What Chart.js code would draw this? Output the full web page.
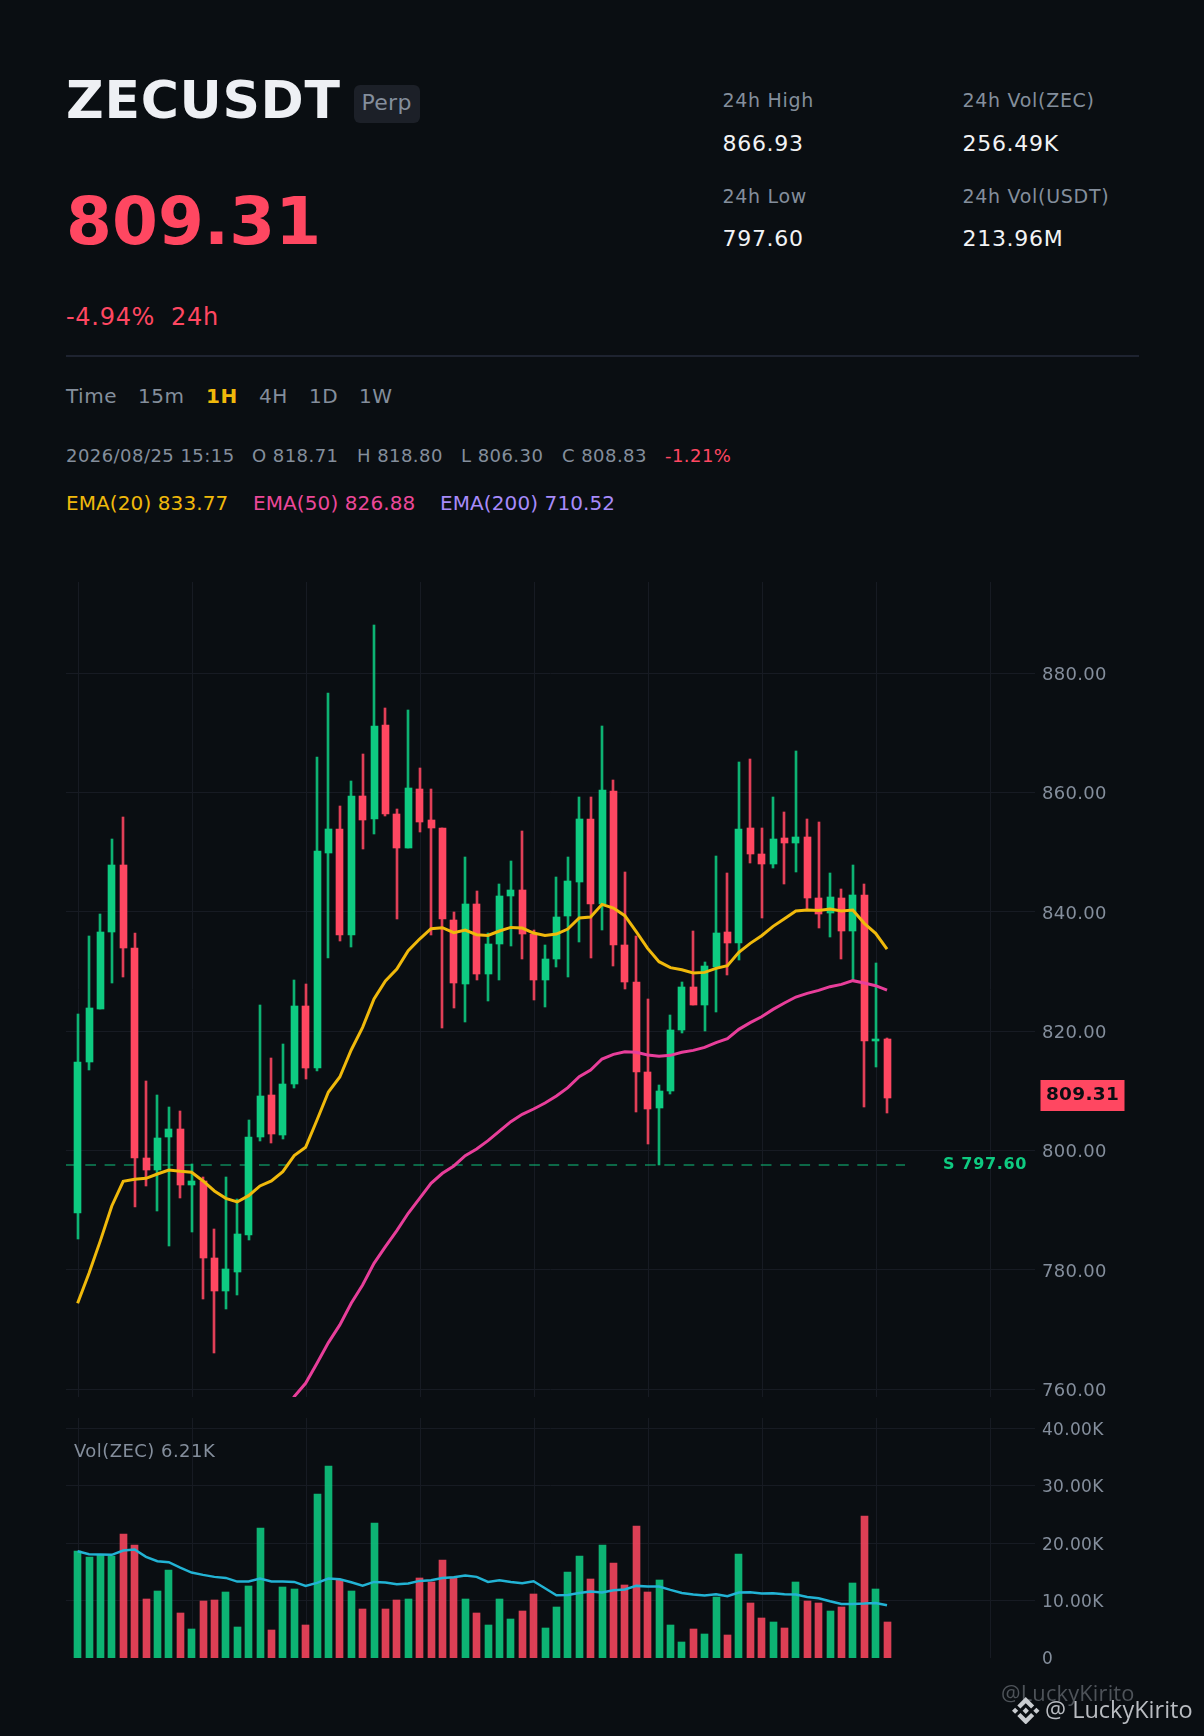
<!DOCTYPE html>
<html><head><meta charset="utf-8">
<script src="https://cdn.jsdelivr.net/npm/chart.js@4/dist/chart.umd.js"></script>
<style>
html,body{margin:0;padding:0;background:#0a0e12;width:1204px;height:1736px;overflow:hidden;font-family:"DejaVu Sans",sans-serif;}
canvas{position:absolute;left:0;display:block;}
.t{position:absolute;white-space:nowrap;line-height:1;transform:translateY(-50%);letter-spacing:.7px;}
.g{color:#848e9c}.w{color:#f2f3f5}.r{color:#ff4761}
.badge{position:absolute;left:354px;top:85px;width:66px;height:38px;border-radius:6px;background:#1c2028;}
.div{position:absolute;left:66px;top:355px;width:1073px;height:2px;background:#1e2330;}
.o{letter-spacing:.45px;font-size:18px}
</style></head><body>
<div class="t" style="left:66px;top:100px;font-size:52px;font-weight:700;letter-spacing:.7px;color:#eef0f4">ZECUSDT</div>
<div class="badge"></div>
<div class="t g" style="left:361.500px;top:102.500px;font-size:22px;letter-spacing:.3px">Perp</div>
<div class="t r" style="left:66px;top:222px;font-size:66px;font-weight:700;letter-spacing:.1px">809.31</div>
<div class="t r" style="left:66px;top:317px;font-size:24px">-4.94%</div>
<div class="t r" style="left:171px;top:317px;font-size:24px">24h</div>
<div class="t g" style="left:722.500px;top:100px;font-size:19px">24h High</div>
<div class="t w" style="left:722.500px;top:143.500px;font-size:22px">866.93</div>
<div class="t g" style="left:722.500px;top:196px;font-size:19px">24h Low</div>
<div class="t w" style="left:722.500px;top:239px;font-size:22px">797.60</div>
<div class="t g" style="left:962.500px;top:100px;font-size:19px">24h Vol(ZEC)</div>
<div class="t w" style="left:962.500px;top:143.500px;font-size:22px">256.49K</div>
<div class="t g" style="left:962.500px;top:196px;font-size:19px">24h Vol(USDT)</div>
<div class="t w" style="left:962.500px;top:239px;font-size:22px">213.96M</div>
<div class="div"></div>
<div class="t g" style="left:66px;top:395.500px;font-size:20px;letter-spacing:.5px">Time</div>
<div class="t g" style="left:138px;top:395.500px;font-size:20px;letter-spacing:.5px">15m</div>
<div class="t" style="left:206px;top:395.500px;font-size:20px;font-weight:700;letter-spacing:.5px;color:#f0b90b">1H</div>
<div class="t g" style="left:259px;top:395.500px;font-size:20px;letter-spacing:.5px">4H</div>
<div class="t g" style="left:309px;top:395.500px;font-size:20px;letter-spacing:.5px">1D</div>
<div class="t g" style="left:359px;top:395.500px;font-size:20px;letter-spacing:.5px">1W</div>
<div class="t g o" style="left:66px;top:456px">2026/08/25 15:15</div>
<div class="t g o" style="left:252px;top:456px">O 818.71</div>
<div class="t g o" style="left:357px;top:456px">H 818.80</div>
<div class="t g o" style="left:461px;top:456px">L 806.30</div>
<div class="t g o" style="left:562px;top:456px">C 808.83</div>
<div class="t r o" style="left:665px;top:456px">-1.21%</div>
<div class="t" style="left:66px;top:503px;font-size:20px;letter-spacing:.1px;color:#f0b90b">EMA(20) 833.77</div>
<div class="t" style="left:253px;top:503px;font-size:20px;letter-spacing:.1px;color:#ec4899">EMA(50) 826.88</div>
<div class="t" style="left:440px;top:503px;font-size:20px;letter-spacing:.1px;color:#a78bfa">EMA(200) 710.52</div>
<canvas id="price" style="top:560px"></canvas>
<canvas id="vol" style="top:1400px"></canvas>
<div class="t g o" style="left:74px;top:1450.500px">Vol(ZEC) 6.21K</div>
<div class="t" style="left:1001px;top:1693px;font-family:'Open Sans';font-size:21.800px;letter-spacing:.2px;color:#4e5359">@LuckyKirito</div>
<svg style="position:absolute;left:1012px;top:1696.500px" width="27.500" height="27.500" viewBox="0 0 126.610 126.610" fill="#c9ccd0">
<path d="M38.730 53.200l24.590-24.580 24.600 24.600 14.300-14.310L63.320 0 24.420 38.900zM0 63.310l14.300-14.310 14.310 14.310-14.310 14.300zM38.730 73.410l24.590 24.590 24.600-24.600 14.310 14.290-38.900 38.910-38.910-38.880zM98 63.310l14.300-14.310 14.310 14.300-14.310 14.320zM77.830 63.300L63.320 48.780 52.590 59.510l-1.240 1.230-2.540 2.540 14.510 14.500 14.510-14.470z"/>
</svg>
<div class="t" style="left:1045px;top:1710px;font-family:'Open Sans';font-size:23.500px;letter-spacing:0;color:#b9bcc1">@ LuckyKirito</div>
<script>
const opens=[789.6,814.85,823.73,836.63,847.86,833.95,798.76,796.75,802.28,803.62,794.24,794.9,781.99,776.47,779.66,785.86,802.28,809.32,802.62,811.16,824.23,813.84,849.87,853.89,836.13,859.42,855.57,871.32,856.41,850.71,860.6,855.4,854.06,838.64,827.92,841.32,829.59,834.62,842.66,843.67,836.3,828.59,832.11,839.31,845.01,855.57,841.32,860.26,834.45,828.25,813.17,807.14,809.99,820.21,827.41,824.4,830.77,836.63,834.79,854.06,849.7,848.03,852.39,851.55,852.55,842.33,839.82,842.33,836.8,842.83,818.37,818.71];
const highs=[822.9,835.96,839.65,852.2,855.9,836.47,811.67,809.3,807.3,806.64,797.76,795.58,786.86,795.58,791.84,805.13,824.4,815.52,817.87,828.6,827.92,865.96,876.68,857.75,861.94,866.46,888.08,874.17,857.25,873.84,864.12,860.6,854.06,839.98,849.2,843.5,836.41,844.67,848.53,853.56,836.97,834.45,845.85,849.2,859.25,859.25,871.15,862.1,846.69,835.96,825.4,810.99,822.72,828.25,836.8,831.6,849.37,846.52,865.12,865.62,854.06,859.26,856.74,866.97,855.57,855.07,846.52,843.84,847.86,844.68,831.44,818.8];
const lows=[785.2,813.5,823.7,828.09,829.09,790.55,794.07,789.88,784,792.06,786.36,775.13,766.08,773.46,775.8,785.02,801.6,801.3,801.95,810.49,812,813.34,832.28,835.13,834.12,850.54,853.06,856.07,838.81,850.71,853.39,836.13,820.6,823.9,821.55,828.59,825.07,828.59,834.29,832.11,825.24,824.07,830.77,829.09,834.96,832.27,836.97,830.93,827.08,806.47,801.1,797.6,809.48,819.7,824.4,820.04,823.23,829.43,831.94,848.2,838.98,847.36,844.68,846.69,840.32,837.3,835.79,832.11,828.42,807.3,814.01,806.3];
const closes=[814.85,823.9,836.63,847.86,833.95,798.76,796.75,802.1,803.6,794.24,794.9,781.99,776.47,780.16,786.03,802.28,809.15,802.8,811.16,824.23,813.84,850.2,853.89,836.13,859.42,855.4,871.16,856.41,850.71,860.76,855.07,854.06,838.81,828.09,841.32,829.59,834.62,842.66,843.67,836.3,828.59,832.11,839.15,845.18,855.57,841.32,860.43,834.45,828.25,813.17,806.97,809.99,820.21,827.41,824.4,830.93,836.47,834.79,853.89,849.7,848.03,852.2,851.55,852.55,842.33,839.65,842.5,836.8,842.83,818.37,818.7,808.83];
const ema20=[774.41,779.43,784.91,790.72,794.85,795.19,795.35,796.08,796.75,796.53,796.36,794.91,793.23,792,791.39,792.45,794.07,794.91,796.47,799.15,800.55,805.13,809.82,812.34,816.86,820.66,825.41,828.42,830.43,833.51,835.46,837.19,837.36,836.52,836.97,836.18,836.07,836.8,837.41,837.3,836.46,836.07,836.3,837.13,838.98,839.15,841.27,840.65,839.37,836.69,833.89,831.66,830.66,830.32,829.76,829.87,830.54,830.99,833.23,834.73,836.02,837.58,838.87,840.15,840.32,840.26,840.49,840.15,840.32,838.09,836.41,833.77];
const ema50=[null,null,null,null,null,null,null,null,null,null,null,null,null,null,null,null,null,null,755.4,758.77,761,764.35,767.82,770.78,774.41,777.48,781.11,783.9,786.58,789.49,792,794.52,796.19,797.42,799.15,800.27,801.66,803.28,804.85,806.08,806.97,807.98,809.15,810.55,812.39,813.5,815.35,816.13,816.58,816.47,816.02,815.8,815.96,816.47,816.8,817.3,818.09,818.76,820.32,821.44,822.44,823.67,824.74,825.74,826.35,826.86,827.47,827.86,828.48,828.09,827.64,826.88];
const volumes=[18.6,17.57,17.92,17.74,21.58,19.66,10.24,11.63,15.3,7.8,5,9.89,10.06,11.46,5.35,12.51,22.63,4.83,12.33,11.98,5.7,28.56,33.45,13.55,11.63,8.49,23.5,8.49,10.06,10.24,13.9,13.2,17.04,14.08,10.24,7.8,5.7,10.24,6.75,8.14,11.11,5.18,8.84,14.95,17.74,13.73,19.66,16.52,12.68,22.98,11.46,13.55,5.7,2.73,5,4.13,10.59,3.96,18.09,9.54,6.92,6.22,5.18,13.2,9.89,9.54,8.14,8.84,13.03,24.72,11.98,6.21];
const volMA=[18.6,18.09,18.03,17.98,18.73,18.91,17.63,16.87,16.7,15.76,14.89,14.49,14.14,13.96,13.32,13.32,13.85,13.32,13.32,13.26,12.57,13.09,13.85,13.73,13.2,12.62,13.26,13.15,12.86,12.97,13.44,13.55,13.96,14.08,14.37,14.14,13.26,13.55,13.26,13.03,13.38,12.16,10.94,10.99,11.34,11.58,11.4,11.81,11.93,12.57,12.45,12.45,11.87,11.34,11.05,10.88,11.11,10.76,11.4,11.46,11.23,11.29,11.11,11.05,10.65,10.41,9.89,9.42,9.42,9.48,9.6,9.19];
const priceTicks=[760,780,800,820,840,860,880];
const volTicks=[0,10,20,30,40];
const timeTicks=[0.05,10.05,20.05,30.05,40.05,50.05,60.05,70.05,80.05];
const lastPrice=809.31, supportPrice=797.6;
const supportSpan=[-1.0175,72.58];

const UP='#0ecb81',DOWN='#ff4761',UPW='rgba(14,203,129,.88)',DNW='rgba(255,71,97,.88)',UPV='rgba(14,203,129,.88)',DNV='rgba(255,71,97,.86)';
const GRID='#171b23',TICK='#848e9c',XMIN=-1.0175,XMAX=83.98;
const isUp=i=>closes[i]>=opens[i];
const pts=a=>a.map((y,x)=>({x,y})).filter(p=>p.y!==null);
Chart.defaults.animation=false;
const snap={id:'snap',beforeDraw(c){c.ctx.letterSpacing='0.3px';},beforeDatasetsDraw(c){
  c.getSortedVisibleDatasetMetas().forEach(m=>{ if(m.type!=='bar')return;
    m.data.forEach(b=>{const l=Math.round(b.x-b.width/2);b.x=l+b.width/2;b.y=Math.round(b.y);b.base=Math.round(b.base);});});
}};
const tags={id:'tags',afterDraw(c){
  const y=c.scales.y,ctx=c.ctx;ctx.save();
  const py=y.getPixelForValue(lastPrice);
  ctx.fillStyle=DOWN;ctx.fillRect(1040.5,Math.round(py-15.5),84,31);
  ctx.fillStyle='#0a0e12';ctx.font='700 18.5px "DejaVu Sans"';ctx.letterSpacing='0.3px';ctx.textAlign='center';ctx.textBaseline='middle';
  ctx.fillText(lastPrice.toFixed(2),1082.5,py+.5);
  const sy=y.getPixelForValue(supportPrice);
  ctx.fillStyle=UP;ctx.font='700 16px "DejaVu Sans"';ctx.letterSpacing='0.65px';ctx.textAlign='right';
  ctx.fillText('S '+supportPrice.toFixed(2),1027,sy);
  ctx.restore();
}};
function xAxis(){return {type:'linear',min:XMIN,max:XMAX,offset:false,
  afterBuildTicks:s=>{s.ticks=timeTicks.map(value=>({value}));},
  grid:{color:GRID,lineWidth:1,offset:false,drawTicks:false},border:{display:false},ticks:{display:false},afterFit:s=>{s.height=0;}};}
function yAxis(min,max,ticks,fmt,hideZero,fs){return {position:'right',min,max,
  afterBuildTicks:s=>{s.ticks=ticks.map(value=>({value}));},afterFit:s=>{s.width=169;},
  grid:{color:c=>(hideZero&&c.tick&&c.tick.value===0)?'rgba(0,0,0,0)':GRID,lineWidth:1,drawTicks:false},border:{display:false},
  ticks:{padding:7,labelOffset:2,color:TICK,font:{family:'"DejaVu Sans"',size:fs},callback:fmt,autoSkip:false,maxRotation:0}};}
function mk(id,pad,datasets,y,plugins){
  const el=document.getElementById(id);
  return new Chart(el,{type:'bar',data:{datasets},plugins,options:{responsive:false,devicePixelRatio:1,maintainAspectRatio:false,
    layout:{padding:pad},interaction:{mode:null},events:[],
    plugins:{legend:{display:false},tooltip:{enabled:false}},
    scales:{x:xAxis(),y}}});
}
function size(id,w,h){const e=document.getElementById(id);e.width=w;e.height=h;e.style.width=w+'px';e.style.height=h+'px';}
size('price',1204,860);size('vol',1204,290);
const wicks=opens.map((_,i)=>({x:i,y:[lows[i],highs[i]]}));
const bodies=opens.map((_,i)=>({x:i,y:[opens[i],closes[i]]}));
mk('price',{left:66,right:0,top:22,bottom:23},[
  {type:'line',data:[{x:supportSpan[0],y:supportPrice},{x:supportSpan[1],y:supportPrice}],borderColor:'rgba(14,203,129,.48)',borderWidth:2,borderDash:[10.7,8.6],pointRadius:0,tension:0,order:9},
  {data:wicks,barThickness:2,grouped:false,borderWidth:0,backgroundColor:wicks.map((_,i)=>isUp(i)?UPW:DNW),order:6},
  {data:bodies,barThickness:7,grouped:false,borderWidth:0,backgroundColor:bodies.map((_,i)=>isUp(i)?UP:DOWN),order:5},
  {type:'line',data:pts(ema50),borderColor:'#e83e9a',borderWidth:3,pointRadius:0,tension:0,order:2},
  {type:'line',data:pts(ema20),borderColor:'#f0b90b',borderWidth:3,pointRadius:0,tension:0,order:1}
],yAxis(758.7,895.3,priceTicks,v=>v.toFixed(2),false,18),[snap,tags]);
mk('vol',{left:66,right:0,top:18,bottom:32},[
  {data:volumes.map((y,x)=>({x,y})),barThickness:7,grouped:false,borderWidth:0,backgroundColor:volumes.map((_,i)=>isUp(i)?UPV:DNV),order:5},
  {type:'line',data:pts(volMA),borderColor:'#22b3d4',borderWidth:2.5,pointRadius:0,tension:0,order:1}
],yAxis(0,41.83,volTicks,v=>v===0?'0':v.toFixed(2)+'K',true,17),[snap]);
</script>
</body></html>
